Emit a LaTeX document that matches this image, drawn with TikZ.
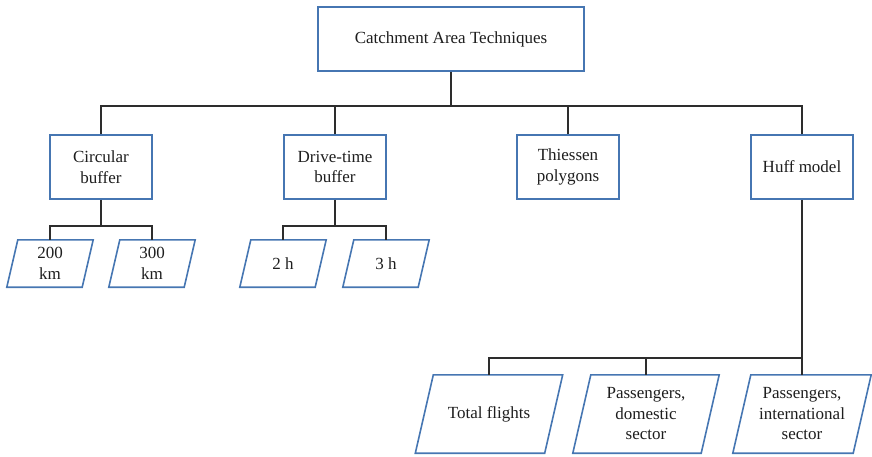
\documentclass[tikz,border=0pt]{standalone}
\usepackage{fontspec}
\setmainfont{Liberation Serif}
\definecolor{boxblue}{RGB}{70,118,178}
\definecolor{linegray}{RGB}{45,45,45}
\definecolor{txt}{RGB}{30,30,30}
\begin{document}
\begin{tikzpicture}[x=1pt,y=-1pt,
  every node/.style={font=\fontsize{17}{20.5}\selectfont, text=txt, align=center, inner sep=0pt},
  rbox/.style={draw=boxblue, line width=1.6pt, fill=white, minimum height=64pt},
  pline/.style={draw=boxblue, line width=1.6pt},
  conn/.style={draw=linegray, line width=1.8pt}]
\useasboundingbox (0,0) rectangle (872,456);
% top
\node[rbox, minimum width=266pt] (top) at (451,39) {Catchment Area Techniques};
\node[rbox, minimum width=102pt] (circ) at (101,167) {Circular\\buffer};
\node[rbox, minimum width=102pt] (drive) at (335,167) {Drive-time\\buffer};
\node[rbox, minimum width=102pt] (thie) at (568,167) {Thiessen\\polygons};
\node[rbox, minimum width=102pt] (huff) at (802,167) {Huff model};
% small parallelograms
\node[minimum width=75pt, minimum height=47pt] (p200) at (50,263.5) {200\\km};
\node[minimum width=75pt, minimum height=47pt] (p300) at (152,263.5) {300\\km};
\node[minimum width=75pt, minimum height=47pt] (p2h) at (283,263.5) {2 h};
\node[minimum width=75pt, minimum height=47pt] (p3h) at (386,263.5) {3 h};
% large parallelograms
\node[minimum width=129pt, minimum height=78pt] (tf) at (489,414) {Total flights};
\node[minimum width=128pt, minimum height=78pt] (pd) at (646,414) {Passengers,\\domestic\\sector};
\node[minimum width=120pt, minimum height=78pt] (pin) at (802,414) {Passengers,\\international\\sector};
\foreach \n/\s in {p200/5.5,p300/5.5,p2h/5.5,p3h/5.5,tf/9,pd/9,pin/9}{
  \draw[pline] ([xshift=\s pt]\n.north west) -- ([xshift=\s pt]\n.north east)
    -- ([xshift=-\s pt]\n.south east) -- ([xshift=-\s pt]\n.south west) -- cycle;
}
% connectors
\coordinate (j0) at (451,106);
\coordinate (j1) at (101,226);
\coordinate (j2) at (335,226);
\coordinate (j3) at (802,358);
\draw[conn] (top.south) -- (j0);
\draw[conn] (circ.north) |- (j0);
\draw[conn] (huff.north) |- (j0);
\draw[conn] (drive.north) -- (drive.north |- j0);
\draw[conn] (thie.north) -- (thie.north |- j0);
\draw[conn] (circ.south) -- (j1);
\draw[conn] (p200.north) |- (j1);
\draw[conn] (p300.north) |- (j1);
\draw[conn] (drive.south) -- (j2);
\draw[conn] (p2h.north) |- (j2);
\draw[conn] (p3h.north) |- (j2);
\draw[conn] (huff.south) -- (j3);
\draw[conn] (tf.north) |- (j3);
\draw[conn] (pd.north) -- (pd.north |- j3);
\draw[conn] (pin.north) -- (pin.north |- j3);
\end{tikzpicture}
\end{document}
